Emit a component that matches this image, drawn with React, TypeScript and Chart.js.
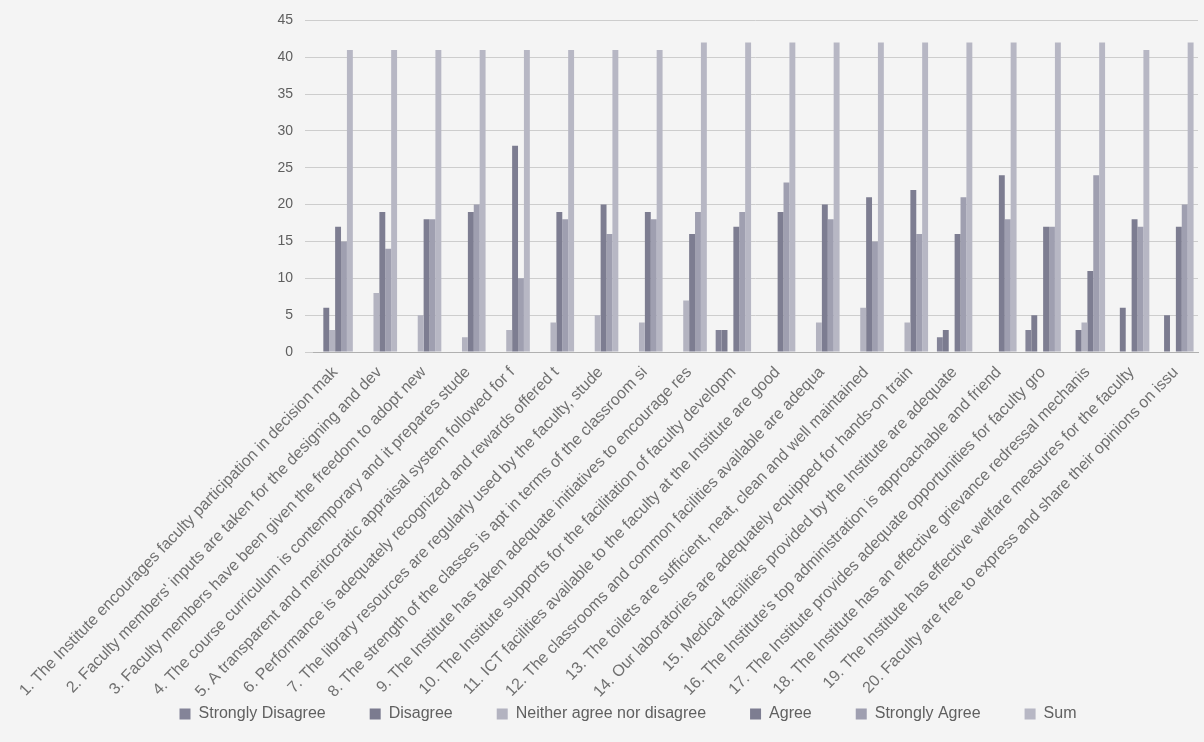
import React, { useEffect, useRef } from "react";
import { Chart, registerables } from "chart.js";

Chart.register(...registerables);

const categories = [
  "1. The Institute encourages faculty participation in decision making",
  "2. Faculty members' inputs are taken for the designing and development",
  "3. Faculty members have been given the freedom to adopt new teaching",
  "4. The course curriculum is contemporary and it prepares students",
  "5. A transparent and meritocratic appraisal system followed for faculty",
  "6. Performance is adequately recognized and rewards offered to faculty",
  "7. The library resources are regularly used by the faculty, students",
  "8. The strength of the classes is apt in terms of the classroom size",
  "9. The Institute has taken adequate initiatives to encourage research",
  "10. The Institute supports for the facilitation of faculty development",
  "11. ICT facilities available to the faculty at the Institute are good",
  "12. The classrooms and common facilities available are adequate",
  "13. The toilets are sufficient, neat, clean and well maintained",
  "14. Our laboratories are adequately equipped for hands-on training",
  "15. Medical facilities provided by the Institute are adequate",
  "16. The Institute's top administration is approachable and friendly",
  "17. The Institute provides adequate opportunities for faculty growth",
  "18. The Institute has an effective grievance redressal mechanism",
  "19. The Institute has effective welfare measures for the faculty",
  "20. Faculty are free to express and share their opinions on issues",
];

const stronglyDisagree = [0, 0, 0, 0, 0, 0, 0, 0, 0, 3, 0, 0, 0, 0, 2, 0, 3, 0, 0, 0];
const disagree = [6, 0, 0, 0, 0, 0, 0, 0, 0, 3, 0, 0, 0, 0, 3, 0, 5, 3, 6, 5];
const neither = [3, 8, 5, 2, 3, 4, 5, 4, 7, 0, 0, 4, 6, 4, 0, 0, 0, 4, 0, 0];
const agree = [17, 19, 18, 19, 28, 19, 20, 19, 16, 17, 19, 20, 21, 22, 16, 24, 17, 11, 18, 17];
const stronglyAgree = [15, 14, 18, 20, 10, 18, 16, 18, 19, 19, 23, 18, 15, 16, 21, 18, 17, 24, 17, 20];
const sum = [41, 41, 41, 41, 41, 41, 41, 41, 42, 42, 42, 42, 42, 42, 42, 42, 42, 42, 41, 42];

const yTicks = [0, 5, 10, 15, 20, 25, 30, 35, 40, 45];

const FONT = "'Liberation Sans', Arial, sans-serif";
const LABEL_SIZE = 16;
const LABEL_MAX_W = 452;

let measureCtx: CanvasRenderingContext2D | null = null;
function clipLabel(text: string): string {
  if (!measureCtx) {
    measureCtx = document.createElement("canvas").getContext("2d");
  }
  const ctx = measureCtx!;
  ctx.font = `${LABEL_SIZE}px ${FONT}`;
  if (ctx.measureText(text).width <= LABEL_MAX_W) return text;
  let s = text;
  while (s.length > 1 && ctx.measureText(s).width > LABEL_MAX_W) {
    s = s.slice(0, -1);
  }
  return s;
}

// lets the rotated category labels run below the (shortened) x-axis box
const labelRoom = {
  id: "labelRoom",
  afterLayout(chart: any) {
    const x = chart.scales.x;
    if (x) x.bottom = chart.height;
  },
};

export default function App() {
  const ref = useRef<HTMLCanvasElement | null>(null);

  useEffect(() => {
    if (!ref.current) return;
    const mk = (label: string, data: number[], color: string) => ({
      label,
      data,
      backgroundColor: color,
      borderWidth: 0,
      categoryPercentage: 0.8,
      barPercentage: 1.0,
    });
    const chart = new Chart(ref.current, {
      type: "bar",
      data: {
        labels: categories,
        datasets: [
          mk("Strongly Disagree", stronglyDisagree, "#848498"),
          mk("Disagree", disagree, "#7b7b8f"),
          mk("Neither agree nor disagree", neither, "#b3b3c0"),
          mk("Agree", agree, "#7d7d91"),
          mk("Strongly Agree", stronglyAgree, "#9f9fb0"),
          mk("Sum", sum, "#b7b7c4"),
        ],
      },
      plugins: [labelRoom],
      options: {
        responsive: true,
        maintainAspectRatio: false,
        animation: false,
        layout: { padding: { top: 12, right: 6, left: 58, bottom: 10 } },
        scales: {
          x: {
            grid: { display: false },
            border: { color: "#b0b0b0" },
            afterFit: (axis: any) => {
              axis.height = 310;
            },
            ticks: {
              autoSkip: false,
              minRotation: 46,
              maxRotation: 46,
              color: "#707070",
              font: { size: LABEL_SIZE, family: FONT },
              callback: (_v: any, i: number) => clipLabel(categories[i]),
            },
          },
          y: {
            min: 0,
            max: 45,
            afterFit: (axis: any) => {
              axis.width = 255;
            },
            afterBuildTicks: (axis: any) => {
              axis.ticks = yTicks.map((v) => ({ value: v }));
            },
            ticks: {
              color: "#5f5f5f",
              padding: 12,
              font: { size: 14, family: FONT },
            },
            grid: { color: "#cdcdcd" },
            border: { display: false },
          },
        },
        plugins: {
          legend: {
            position: "bottom",
            labels: {
              boxWidth: 11,
              boxHeight: 11,
              padding: 44,
              color: "#606060",
              font: { size: 16, family: FONT },
            },
          },
          tooltip: { enabled: false },
        },
      },
    });
    return () => chart.destroy();
  }, []);

  return (
    <div
      style={{
        position: "fixed",
        left: 0,
        top: 0,
        width: "1204px",
        height: "742px",
        background: "#f4f4f4",
      }}
    >
      <canvas ref={ref} />
    </div>
  );
}
